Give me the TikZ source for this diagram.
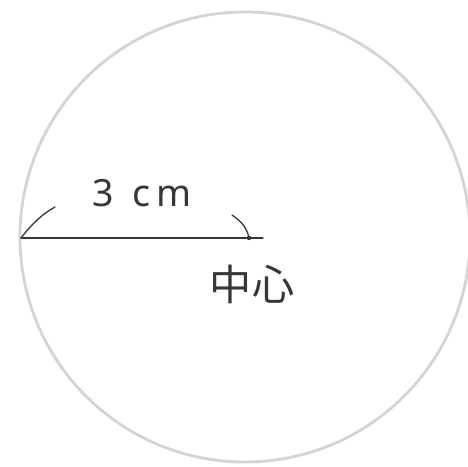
\documentclass[tikz,border=0pt]{standalone}
\usepackage{fontspec}
\setmainfont{Noto Sans}
\newfontfamily\cjk{Noto Sans CJK JP}
\definecolor{KreisGrau}{RGB}{212,212,212}
\definecolor{Stift}{RGB}{55,55,55}

\begin{document}
\begin{tikzpicture}[x=0.03cm, y=-0.03cm,
    kreislinie/.style={draw=KreisGrau, line width=2.4pt},
    stiftlinie/.style={draw=Stift, line width=1.1pt, line cap=round},
    beschriftung/.style={text=Stift, inner sep=0pt}]
  \useasboundingbox[fill=white] (0,0) rectangle (468,466);

  % Kreis
  \coordinate (mitte) at (249,238);
  \draw[kreislinie] (245,237) circle[radius=225];

  % Radius
  \coordinate (rand) at (21,238);
  \coordinate (ende) at (263,238);
  \draw[stiftlinie] (rand) -- (ende);
  \fill[Stift] (mitte) circle[radius=2.2];

  % Bogenmarken
  \coordinate (bogenlinks) at (55,207);
  \coordinate (bogenrechts) at (232,215);
  \draw[stiftlinie] (rand) .. controls (32,224) and (42,214) .. (bogenlinks);
  \draw[stiftlinie] (bogenrechts) .. controls (242,222) and (247,228) .. (mitte);

  % Texte
  \node[beschriftung, font=\fontsize{32}{34}\selectfont] (laenge) at (142,193) {3\,\,\,c\,m};
  \node[beschriftung, font=\cjk\fontsize{36}{38}\selectfont] (mittetext) at (252,284) {中心};
\end{tikzpicture}
\end{document}
